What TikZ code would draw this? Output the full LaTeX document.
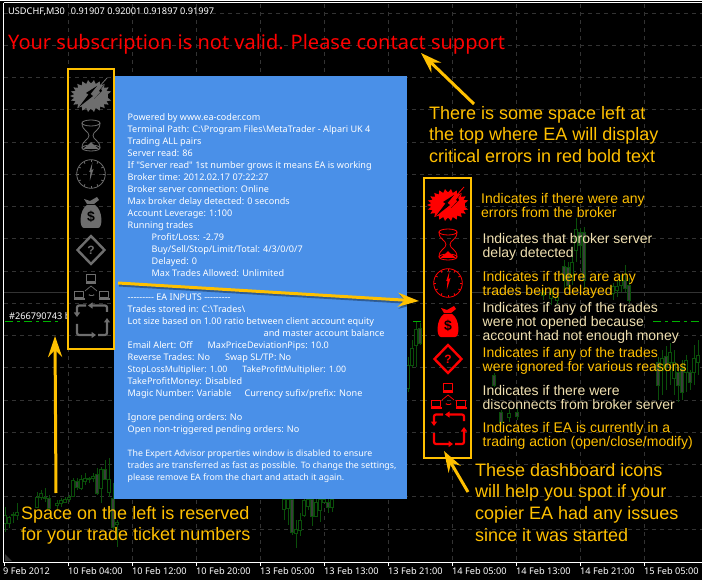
\documentclass[tikz,border=0pt]{standalone}
\usepackage{fontspec}
\usetikzlibrary{arrows.meta}
\usetikzlibrary{calc}
\newfontfamily\tahomalike{Noto Sans}
\newfontfamily\arialfont{Liberation Sans}
\definecolor{gold}{HTML}{FFC000}
\definecolor{cream}{HTML}{F0E0B0}
\definecolor{panelblue}{HTML}{4A90E8}
\definecolor{gridgray}{HTML}{333333}
\definecolor{candlegreen}{HTML}{0A500A}
\definecolor{candlegray}{HTML}{3C3C3C}
\definecolor{iconoff}{HTML}{6E6E6E}
\definecolor{iconred}{HTML}{FF0000}
\tikzset{
  gridline/.style={draw=gridgray, line width=0.8pt, dash pattern=on 4pt off 4pt},
  candle/.style={draw=candlegreen, line width=0.8pt},
  boxframe/.style={draw=gold, line width=2pt},
  goldarrow/.style={draw=gold, fill=gold, line width=3pt, -{Stealth[length=21pt, width=14pt, inset=7pt]}},
  arrowshadow/.style={draw=black, fill=black, opacity=0.35, line width=3pt, transform canvas={xshift=1pt, yshift=-2pt}, -{Stealth[length=21pt, width=14pt, inset=7pt]}},
  chartlabel/.style={anchor=west, inner sep=0pt, text=white, font=\tahomalike\fontsize{9.2}{12}\selectfont},
  bigtext/.style={anchor=north west, inner sep=0pt, align=left, text=gold, font=\arialfont\fontsize{18}{21.6}\selectfont},
  goldrow/.style={anchor=north west, inner sep=0pt, align=left, text=gold, font=\arialfont\fontsize{14}{14}\selectfont},
  creamrow/.style={goldrow, text=cream}
}
\newcommand{\narrowline}[1]{{\fontsize{8.8}{12}\selectfont #1}}
\newcommand{\dashicons}[3]{
  \begin{scope}[shift={(#2, #3)}, line join=round]
    % burst
    \fill[#1] (17, 0) \foreach \k in {1,...,43} { -- ({(mod(\k,2)==0 ? 21 : 17)*cos(\k*360/44)}, {(mod(\k,2)==0 ? 16 : 12.5)*sin(\k*360/44)}) } -- cycle;
    \fill[black] (6, -10) -- (-5, -3) -- (-2.5, -1.5) -- (-12, 11) -- (2, 0) -- (-0.5, -2) -- cycle;
    \fill[black] (15, -14) -- (8, -5) -- (9.5, -4) -- (3, 3) -- (11, -5) -- (10, -7) -- cycle;
    \draw[#1, line width=0.8pt] (8, -9) -- (16, -18);
    % hourglass
    \draw[#1, line width=0.8pt] (0, 27) ellipse (9 and 3);
    \draw[#1, line width=0.8pt] (0, 52) ellipse (9 and 3);
    \draw[#1, line width=0.8pt] (-9, 27) .. controls (-9, 35) and (-2, 35) .. (-2, 39.5) .. controls (-2, 44) and (-9, 44) .. (-9, 52);
    \draw[#1, line width=0.8pt] (9, 27) .. controls (9, 35) and (2, 35) .. (2, 39.5) .. controls (2, 44) and (9, 44) .. (9, 52);
    \fill[#1] (-8, 53) .. controls (-4, 49) and (-1, 49) .. (0, 46) .. controls (1, 49) and (4, 49) .. (8, 53) -- cycle;
    % clock
    \draw[#1, line width=0.8pt] (0, 78) circle (14.3);
    \foreach \a in {0,30,...,330} { \draw[#1, line width=0.8pt] ($(0, 78)+(\a:14)$) -- ($(0, 78)+(\a:12)$); }
    \fill[#1] (1.5, 66) -- (0.6, 74) -- (2.5, 73) -- (-1.2, 85) -- (-0.6, 76) -- (-1.8, 76) -- cycle;
    % money bag
    \fill[#1] (-4, 109) .. controls (-12, 114) and (-12, 132) .. (-7, 132) -- (7, 132) .. controls (12, 132) and (12, 114) .. (4, 109) -- cycle;
    \fill[#1] (-7, 103) -- (-1, 105) -- (6, 101) -- (8, 104) -- (3, 108) -- (-4, 108) -- cycle;
    \node[inner sep=0pt, text=black, font=\arialfont\bfseries\fontsize{14}{14}\selectfont] (#1dollar) at (0, 120.5) {\$};
    % diamond
    \draw[#1, line width=2.4pt, line join=miter] (0, 140) -- (13.5, 154) -- (0, 168) -- (-13.5, 154) -- cycle;
    \node[inner sep=0pt, text=#1, font=\arialfont\bfseries\fontsize{12}{12}\selectfont] (#1mark) at (0, 154) {?};
    % computers
    \draw[#1, line width=0.9pt] (-4.5, 178.5) rectangle (4.5, 185);
    \fill[#1] (-5, 186) rectangle (5, 188);
    \draw[#1, line width=0.9pt] (-16.5, 195) rectangle (-7.5, 201.5);
    \fill[#1] (-17.5, 202) rectangle (-6.5, 204);
    \draw[#1, line width=0.9pt] (8.5, 195) rectangle (17.5, 201.5);
    \fill[#1] (7.5, 202) rectangle (18.5, 204);
    \draw[#1, line width=0.7pt] (-6, 195) -- (0, 190) -- (6, 195);
    \draw[#1, line width=0.7pt, {Latex[length=2pt]}-{Latex[length=2pt]}] (-3, 199) -- (4, 199);
    % cycle
    \draw[#1, line width=2.2pt, rounded corners=2pt, -{Triangle[length=4.5pt, width=6pt]}] (16, 216) -- (16, 209.5) -- (-3, 209.5);
    \draw[#1, line width=2.2pt, rounded corners=2pt, -{Triangle[length=4.5pt, width=6pt]}] (-5, 209.5) -- (-14, 209.5) -- (-14, 221);
    \draw[#1, line width=2.2pt, rounded corners=2pt, -{Triangle[length=4.5pt, width=6pt]}] (-14, 228) -- (-14, 239) -- (5, 239);
    \draw[#1, line width=2.2pt, rounded corners=2pt, -{Triangle[length=4.5pt, width=6pt]}] (7, 239) -- (16, 239) -- (16, 222);
  \end{scope}
}
\begin{document}
\begin{tikzpicture}[x=1pt, y=-1pt]
  \useasboundingbox (0, 0) rectangle (702, 580);
  \fill[black] (0, 0) rectangle (702, 580);
  % grid
  \foreach \gx in {68,132,...,644} { \draw[gridline] (\gx, 4) -- (\gx, 562); }
  \foreach \gy in {13,45.25,...,540} { \draw[gridline] (4, \gy) -- (702, \gy); }
  \draw[gridgray, line width=1pt] (4, 293) -- (702, 293);
  % candles
  \foreach \cx/\chi/\clo/\ctop/\cbot/\cfill in {
    5/507/532/515/523/black, 9/516/528/517/523/black, 13/512/523/514/515/black, 17/503/520/512/515/black,
    37/492/508/497/507/black, 41/490/500/493/497/black, 45/488/502/497/498/black, 49/495/510/498/508/candlegray,
    57/500/510/503/505/black, 61/498/507/500/503/black, 65/497/503/499/502/black, 69/495/502/497/499/black,
    73/478/497/480/496/black, 77/478/490/481/487/candlegray, 81/475/490/479/488/black, 85/473/485/478/481/black,
    89/477/483/478/479/black, 93/473/482/476/478/black, 97/468/495/474/493/candlegray, 101/467/503/469/488/black,
    105/460/480/469/479/candlegray, 109/458/497/479/492/black, 113/483/530/498/527/candlegray, 117/520/547/522/524/black,
    284/499/520/499/509/black, 288/499/525/499/508/black, 292/499/535/499/532/candlegray, 296/520/548/529/533/black,
    300/513/536/520/530/black, 304/499/517/500/515/black, 308/499/510/499/506/black, 312/499/526/499/516/candlegray,
    316/499/517/502/516/black, 320/499/522/499/510/black, 324/499/503/499/502/black, 328/499/513/502/507/candlegray,
    332/499/512/499/507/black,
    408/357/392/365/388/black, 412/340/368/348/365/black, 416/322/367/329/345/black, 420/323/345/328/343/candlegray,
    494/373/387/375/385/candlegray, 501/410/425/412/422/candlegray, 509/409/422/413/417/black, 517/408/420/412/416/candlegray,
    543/290/300/292/295/black, 551/288/305/292/298/black, 557/295/305/297/300/black,
    564/260/290/266/280/candlegray, 568/262/290/267/285/candlegray, 572/250/285/262/275/black, 576/218/262/229/250/black,
    580/228/258/232/245/candlegray, 584/227/290/232/280/candlegray,
    613/283/300/286/293/black, 617/280/297/286/290/black, 621/275/292/280/285/black, 625/265/292/280/288/candlegray, 629/278/303/285/300/candlegray,
    658/357/400/362/385/candlegray, 662/350/395/358/370/black, 666/346/390/356/367/candlegray, 670/343/385/352/362/black,
    674/350/395/362/378/black, 678/365/402/372/385/candlegray, 682/360/400/368/392/candlegray, 686/355/392/360/372/black,
    690/370/390/372/382/candlegray, 694/345/385/358/372/black, 698/340/375/355/362/black}
  {
    \draw[candle] (\cx, \chi) -- (\cx, \clo);
    \draw[candle, fill=\cfill] (\cx-1.5, \ctop) rectangle (\cx+1.5, \cbot);
  }
  % frame and axis
  \draw[white, line width=1pt] (0, 0.5) -- (702, 0.5);
  \draw[white, line width=1pt] (3.5, 3) -- (702, 3);
  \draw[white, line width=1pt] (3.5, 3) -- (3.5, 562) -- (702, 562);
  \fill[gridgray] (5, 554) -- (5, 561) -- (12, 561) -- cycle;
  \foreach \tx in {4,68,132,...,644} { \draw[white, line width=1pt] (\tx, 562) -- (\tx, 566); }
  \node[chartlabel] (date0) at (3, 571.5) {9 Feb 2012};
  \node[chartlabel] (date1) at (68, 571.5) {10 Feb 04:00};
  \node[chartlabel] (date2) at (132, 571.5) {10 Feb 12:00};
  \node[chartlabel] (date3) at (196, 571.5) {10 Feb 20:00};
  \node[chartlabel] (date4) at (260, 571.5) {13 Feb 05:00};
  \node[chartlabel] (date5) at (324, 571.5) {13 Feb 13:00};
  \node[chartlabel] (date6) at (388, 571.5) {13 Feb 21:00};
  \node[chartlabel] (date7) at (452, 571.5) {14 Feb 05:00};
  \node[chartlabel] (date8) at (516, 571.5) {14 Feb 13:00};
  \node[chartlabel] (date9) at (580, 571.5) {14 Feb 21:00};
  \node[chartlabel] (date10) at (644, 571.5) {15 Feb 05:00};
  \node[chartlabel] (symbol) at (8, 12) {USDCHF,M30\hspace{6pt}0.91907 0.92001 0.91897 0.91997};
  \node[anchor=west, inner sep=0pt, text=iconred, font=\tahomalike\fontsize{20}{24}\selectfont] (suberror) at (8, 44) {Your subscription is not valid. Please contact support};
  % ticket line
  \draw[green!70!black, line width=1pt, dash pattern=on 8pt off 4pt on 3pt off 4pt] (5, 321.5) -- (62, 321.5);
  \draw[green!70!black, line width=1pt] (413, 321.5) -- (421, 321.5);
  \draw[green!70!black, line width=1pt, dash pattern=on 8pt off 4pt on 3pt off 4pt] (653, 321.5) -- (702, 321.5);
  \node[chartlabel] (ticket) at (9, 316) {\#266790743 b};
  % panel
  \fill[panelblue] (114, 76) rectangle (407, 499);
  \node[anchor=north west, inner sep=0pt, align=left, text=white, font=\tahomalike\fontsize{9.1}{12}\selectfont] (eapanel) at (127.5, 113) {
    Powered by www.ea-coder.com\\
    Terminal Path: C:\textbackslash Program Files\textbackslash MetaTrader - Alpari UK 4\\
    Trading ALL pairs\\
    Server read: 86\\
    If "Server read" 1st number grows it means EA is working\\
    Broker time: 2012.02.17 07:22:27\\
    Broker server connection: Online\\
    Max broker delay detected: 0 seconds\\
    Account Leverage: 1:100\\
    Running trades\\
    \hspace*{24pt}Profit/Loss: -2.79\\
    \hspace*{24pt}Buy/Sell/Stop/Limit/Total: 4/3/0/0/7\\
    \hspace*{24pt}Delayed: 0\\
    \hspace*{24pt}Max Trades Allowed: Unlimited\\
    \mbox{}\\
    --------- EA INPUTS ---------\\
    Trades stored in: C:\textbackslash Trades\textbackslash\\
    Lot size based on 1.00 ratio between client account equity\\
    \hspace*{136pt}and master account balance\\
    Email Alert: Off\hspace{15pt}MaxPriceDeviationPips: 10.0\\
    Reverse Trades: No\hspace{15pt}Swap SL/TP: No\\
    \narrowline{StopLossMultiplier: 1.00\hspace{15pt}TakeProfitMultiplier: 1.00}\\
    TakeProfitMoney: Disabled\\
    Magic Number: Variable\hspace{13pt}Currency sufix/prefix: None\\
    \mbox{}\\
    Ignore pending orders: No\\
    Open non-triggered pending orders: No\\
    \mbox{}\\
    \narrowline{The Expert Advisor properties window is disabled to ensure}\\
    \narrowline{trades are transferred as fast as possible. To change the settings,}\\
    \narrowline{please remove EA from the chart and attach it again.}};
  % dashboards
  \fill[black] (67, 69) rectangle (114, 349);
  \fill[black] (423, 178) rectangle (471, 458);
  \foreach \gy in {77.5,109.75,142,174.25,206.5,238.75,271,303.25,335.5} { \draw[gridline] (67, \gy) -- (114, \gy); }
  \foreach \gy in {206.5,238.75,271,303.25,335.5,367.75,400,432.25} { \draw[gridline] (423, \gy) -- (471, \gy); }
  \dashicons{iconoff}{91}{96}
  \dashicons{iconred}{448}{205}
  \draw[boxframe] (67.5, 69.5) rectangle (114, 349);
  \draw[boxframe] (424, 178.5) rectangle (471, 458);
  % texts
  \node[bigtext] (toptext) at (429, 106) {There is some space left at\\the top where EA will display\\critical errors in red bold text};
  \node[bigtext] (lefttext) at (21, 506) {Space on the left is reserved\\for your trade ticket numbers};
  \node[bigtext] (bottomtext) at (475, 463) {These dashboard icons\\will help you spot if your\\copier EA had any issues\\since it was started};
  \node[goldrow] (brokererrors) at (481, 193) {Indicates if there were any\\errors from the broker};
  \node[creamrow] (serverdelay) at (482.5, 233) {Indicates that broker server\\delay detected};
  \node[goldrow] (tradesdelayed) at (482.5, 271) {Indicates if there are any\\trades being delayed};
  \node[creamrow] (nomoney) at (482.5, 302) {Indicates if any of the trades\\were not opened because\\account had not enough money};
  \node[goldrow] (ignored) at (482.5, 347) {Indicates if any of the trades\\were ignored for various reasons};
  \node[creamrow] (disconnects) at (482.5, 385) {Indicates if there were\\disconnects from broker server};
  \node[goldrow] (action) at (482.5, 422) {Indicates if EA is currently in a\\trading action (open/close/modify)};
  % arrows
  \coordinate (topstart) at (474, 104);
  \coordinate (topend) at (421, 53);
  \coordinate (midstart) at (118, 283);
  \coordinate (midend) at (419, 301);
  \coordinate (leftstart) at (56, 493);
  \coordinate (leftend) at (55, 336);
  \coordinate (botstart) at (468, 492);
  \coordinate (botend) at (444, 451);
  \draw[arrowshadow] (midstart) -- (midend);
  \draw[goldarrow] (topstart) -- (topend);
  \draw[goldarrow] (midstart) -- (midend);
  \draw[goldarrow] (leftstart) -- (leftend);
  \draw[goldarrow] (botstart) -- (botend);
\end{tikzpicture}
\end{document}
